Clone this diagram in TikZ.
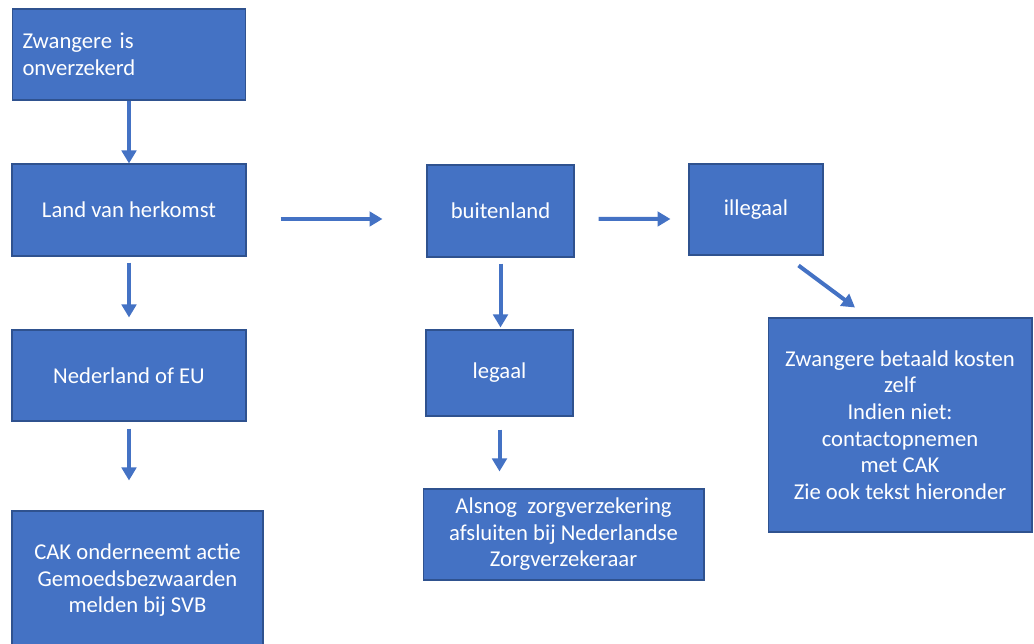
\documentclass[tikz,border=0pt]{standalone}
\usepackage{fontspec}
\setmainfont{Carlito}
\usetikzlibrary{arrows.meta,calc,positioning}
\definecolor{boxblue}{HTML}{4472C4}
\definecolor{boxline}{HTML}{2F528F}

\begin{document}
\begin{tikzpicture}[x=0.02cm, y=-0.02cm,
  box/.style={draw=boxline, line width=0.6pt, fill=boxblue, text=white,
    font=\fontsize{12.9}{15.1}\selectfont, align=center, inner sep=0pt},
  arr/.style={draw=boxblue, line width=0.08cm, -{Triangle[length=0.26cm, width=0.29cm]}}]
\useasboundingbox (0,0) rectangle (1034,644);
\clip (0,0) rectangle (1034,644);

% Left column
\node[box, minimum width=4.66cm, minimum height=1.82cm, text width=4.26cm, align=left] (onverz) at (129,54.5) {Zwangere is\\onverzekerd};
\node[box, minimum width=4.68cm, minimum height=1.84cm] (land) at (129,210) {Land van herkomst};
\node[box, minimum width=4.68cm, minimum height=1.82cm] (nl) at (129,375.5) {Nederland of EU};
\node[box, minimum width=5.02cm, minimum height=2.78cm] (cak) at (137.5,580.5) {CAK onderneemt actie\\Gemoedsbezwaarden\\melden bij SVB};

% Middle column
\node[box, minimum width=2.94cm, minimum height=1.84cm] (buiten) at (500.5,211) {buitenland};
\node[box, minimum width=2.94cm, minimum height=1.72cm] (legaal) at (499.5,373) {legaal};
\node[box, minimum width=5.62cm, minimum height=1.82cm] (alsnog) at (563.5,534.5) {Alsnog~ zorgverzekering\\afsluiten bij Nederlandse\\Zorgverzekeraar};

% Right column
\node[box, minimum width=2.68cm, minimum height=1.82cm] (illegaal) at (756,209.5) {illegaal};
\node[box, minimum width=5.28cm, minimum height=4.28cm] (kosten) at (900,425) {Zwangere betaald kosten\\zelf\\Indien niet:\\contactopnemen\\met CAK\\Zie ook tekst hieronder};

% Arrows
\draw[arr] (onverz.south) -- (land.north);
\draw[arr, shorten <=0.12cm, shorten >=0.24cm] (land.south) -- (nl.north);
\draw[arr, shorten <=0.14cm, shorten >=0.6cm] (nl.south) -- (cak.north -| nl.south);
\draw[arr, shorten <=0.68cm, shorten >=0.88cm] ($(land.east)+(0,9)$) -- ($(buiten.west)+(0,8)$);
\draw[arr, shorten <=0.12cm, shorten >=0.04cm] (buiten.south) -- (legaal.north -| buiten.south);
\draw[arr, shorten <=0.48cm, shorten >=0.36cm] ($(buiten.east)+(0,8)$) -- ($(illegaal.west)+(0,9.5)$);
\draw[arr, shorten <=0.26cm, shorten >=0.34cm] (legaal.south) -- (legaal.south |- alsnog.north);
\draw[arr] ($(illegaal.south east)+(-25,10)$) -- ($(kosten.north)+(-45,-10)$);
\end{tikzpicture}
\end{document}
